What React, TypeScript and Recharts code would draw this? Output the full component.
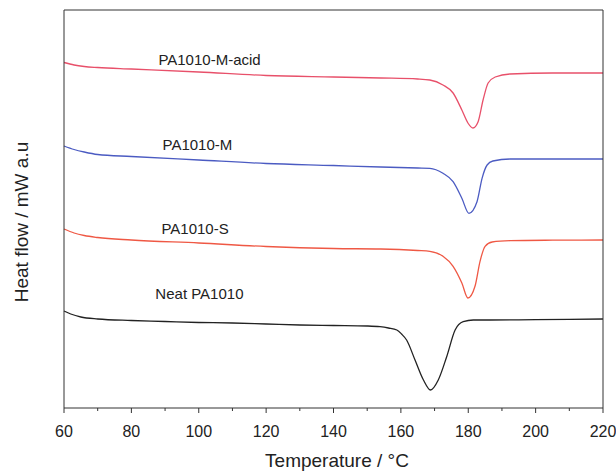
import React from "react";
import {
  LineChart,
  Line,
  XAxis,
  YAxis,
  ReferenceDot,
} from "recharts";

// temperature (°C) / heat flow (arb. units)
const acidT = [60, 63, 66, 70, 80, 100, 120, 140, 154, 165, 168.6, 172.5, 175.5, 178.1, 179.9, 181.4, 182.9, 184.4, 185.9, 188, 192.4, 205, 220];
const acidV = [345.5, 343, 341.5, 340.5, 339, 336, 332.5, 331, 330, 329, 328, 323, 315, 298, 285, 280, 286, 308, 325, 331, 334, 335, 335];

const mT = [60, 63, 66, 70, 80, 100, 120, 140, 154, 165, 168.6, 172.5, 175.5, 178.1, 180.2, 182.6, 184.1, 185.6, 187.3, 192.4, 205, 220];
const mV = [262, 258.5, 256, 253.5, 251.5, 248, 244.5, 242.5, 241, 240, 239.7, 234.7, 226.3, 209.7, 194.7, 206.3, 229.7, 243, 247, 249, 249, 249];

const sT = [60, 63, 66, 70, 80, 100, 120, 140, 154, 165, 168.6, 172.5, 175.5, 178.1, 179.9, 182, 183.5, 185, 187.1, 192.4, 205, 220];
const sV = [179, 175, 172.5, 170.5, 168, 165, 161.5, 159.5, 159, 157.5, 156.7, 151.7, 141.7, 125, 110, 121.7, 146.7, 161.7, 166, 167.3, 167.8, 168];

const neatT = [60, 62, 65, 70, 80, 90, 100, 110, 120, 130, 140, 150, 153.8, 156.3, 158.8, 160.2, 161.7, 164.2, 166.7, 168.8, 171.1, 173.6, 176.1, 178.5, 181.5, 186.5, 200, 210, 220];
const neatV = [97, 94, 91, 89, 87.5, 86.5, 85.5, 85, 84, 83, 82.5, 82, 81.3, 80, 78, 74, 68, 48, 28, 18, 28, 51.3, 78, 86.3, 88, 88, 88.3, 88.6, 89];

const xTicks = [60, 70, 80, 90, 100, 110, 120, 130, 140, 150, 160, 170, 180, 190, 200, 210, 220];

const toRows = (t: number[], v: number[]) => t.map((x, i) => ({ t: x, v: v[i] }));

// the neat curve sits on the top/right axes (same domains) so that the frame gets drawn
const series = [
  { name: "PA1010-M-acid", data: toRows(acidT, acidV), color: "#e8506a", lx: 103.2, ly: 348, xa: "0", ya: "0" },
  { name: "PA1010-M", data: toRows(mT, mV), color: "#4b5bc2", lx: 99.6, ly: 263, xa: "0", ya: "0" },
  { name: "PA1010-S", data: toRows(sT, sV), color: "#ef5844", lx: 98.9, ly: 179, xa: "0", ya: "0" },
  { name: "Neat PA1010", data: toRows(neatT, neatV), color: "#222222", lx: 100.2, ly: 114, xa: "top", ya: "right" },
];

const font = "'Liberation Sans', Arial, sans-serif";

const Tick = (props: any) => {
  const { x, y, payload } = props;
  const major = payload.value % 20 === 0;
  return (
    <g>
      <line x1={x} x2={x} y1={y} y2={y + (major ? 5 : 3)} stroke="#333" strokeWidth={1} />
      {major && (
        <text x={x} y={y + 29} textAnchor="middle" fontSize={16} fill="#222" fontFamily={font}>
          {payload.value}
        </text>
      )}
    </g>
  );
};

const YTitle = () => (
  <text
    x={21}
    y={222}
    transform="rotate(-90 21 222)"
    textAnchor="middle"
    dominantBaseline="central"
    fontSize={19}
    fill="#222"
    fontFamily={font}
  >
    Heat flow / mW a.u
  </text>
);

const XTitle = () => (
  <text x={337} y={467} textAnchor="middle" fontSize={19} fill="#222" fontFamily={font}>
    Temperature / °C
  </text>
);

export default function App() {
  return (
    <div style={{ position: "absolute", left: 0, top: 0, background: "#fff" }}>
      <LineChart width={616} height={471} margin={{ top: 9, right: 12, bottom: 0, left: 0 }}>
        <XAxis
          dataKey="t"
          type="number"
          domain={[60, 220]}
          ticks={xTicks}
          allowDuplicatedCategory={false}
          interval={0}
          tickSize={0}
          tickMargin={0}
          tickLine={false}
          tick={<Tick />}
          height={63}
          stroke="#333"
          label={<XTitle />}
        />
        <XAxis
          xAxisId="top"
          orientation="top"
          dataKey="t"
          type="number"
          domain={[60, 220]}
          allowDuplicatedCategory={false}
          height={1}
          tick={false}
          tickLine={false}
          stroke="#333"
        />
        <YAxis
          type="number"
          domain={[0, 398]}
          width={64}
          tick={false}
          tickLine={false}
          stroke="#333"
          label={<YTitle />}
        />
        <YAxis
          yAxisId="right"
          orientation="right"
          type="number"
          domain={[0, 398]}
          width={1}
          tick={false}
          tickLine={false}
          stroke="#333"
        />
        {series.map((s) => (
          <Line
            key={s.name}
            data={s.data}
            dataKey="v"
            name={s.name}
            xAxisId={s.xa === "0" ? 0 : s.xa}
            yAxisId={s.ya === "0" ? 0 : s.ya}
            type="monotone"
            stroke={s.color}
            strokeWidth={1.3}
            dot={false}
            isAnimationActive={false}
          />
        ))}
        {series.map((s) => (
          <ReferenceDot
            key={"l" + s.name}
            x={s.lx}
            y={s.ly}
            r={0}
            stroke="none"
            label={{ value: s.name, position: "center", fontSize: 15, fill: "#222", fontFamily: font }}
          />
        ))}
      </LineChart>
    </div>
  );
}
